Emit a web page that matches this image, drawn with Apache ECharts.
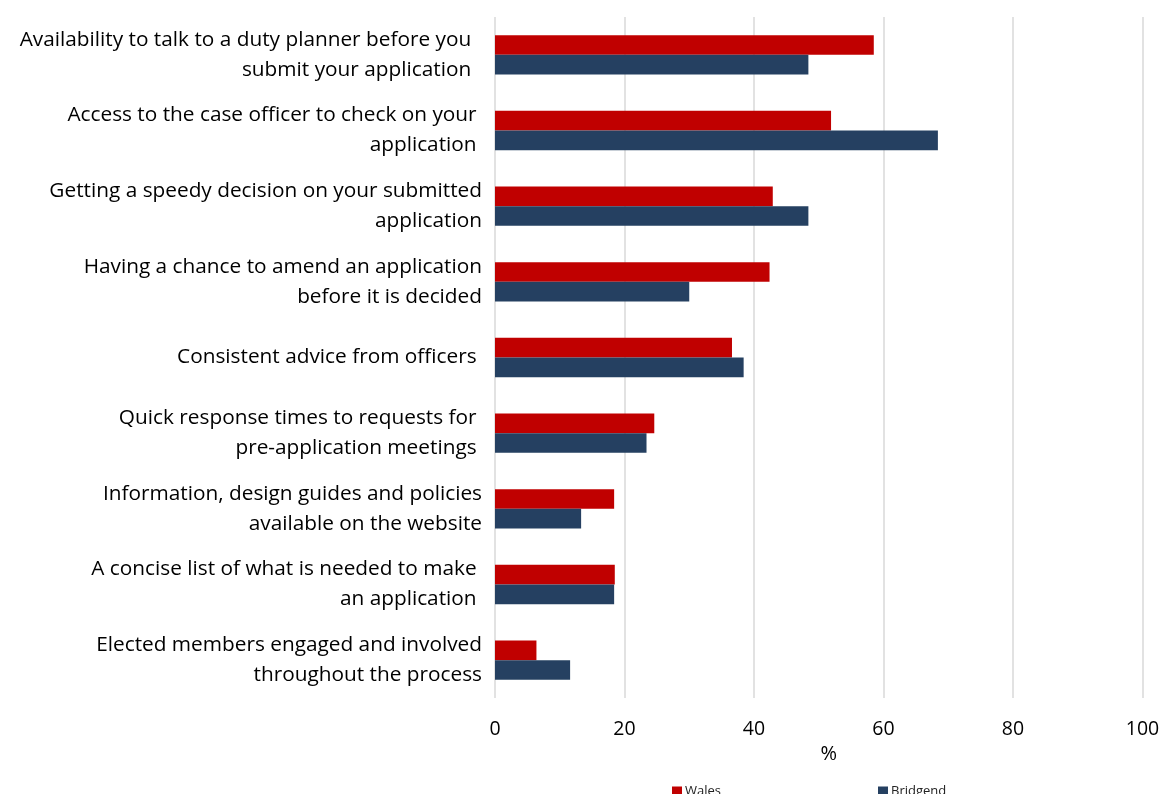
<!DOCTYPE html>
<html><head><meta charset="utf-8">
<script src="https://cdn.jsdelivr.net/npm/echarts@6/dist/echarts.min.js"></script>
<style>html,body{margin:0;padding:0;background:#fff}#c{width:1163px;height:794px}</style>
</head><body><div id="c"></div>
<script>
const categories = [
  "Availability to talk to a duty planner before you  \nsubmit your application  ",
  "Access to the case officer to check on your \napplication ",
  "Getting a speedy decision on your submitted\napplication",
  "Having a chance to amend an application\nbefore it is decided",
  "Consistent advice from officers ",
  "Quick response times to requests for \npre-application meetings ",
  "Information, design guides and policies\navailable on the website",
  "A concise list of what is needed to make \nan application ",
  "Elected members engaged and involved\nthroughout the process"
];
const wales    = [58.5, 51.9, 42.9, 42.4, 36.6, 24.6, 18.4, 18.5, 6.4];
const bridgend = [48.4, 68.4, 48.4, 30.0, 38.4, 23.4, 13.3, 18.4, 11.6];
const xTicks = [0, 20, 40, 60, 80, 100];

const chart = echarts.init(document.getElementById('c'));
chart.setOption({
  animation: false,
  textStyle: { fontFamily: 'Open Sans' },
  grid: { left: 495, right: 20.5, top: 17, bottom: 96, containLabel: false },
  legend: {
    data: ['Wales', 'Bridgend'],
    left: 667, top: 780,
    itemWidth: 10, itemHeight: 10, itemGap: 157,
    icon: 'rect',
    textStyle: { fontSize: 13, color: '#222', padding: [0,0,0,-2] }
  },
  xAxis: {
    type: 'value', min: xTicks[0], max: xTicks[xTicks.length-1], interval: 20,
    name: '%', nameLocation: 'middle', nameGap: 44,
    nameTextStyle: { fontSize: 20, color: '#000', padding: [0,0,0,20] },
    axisLine: { show: false }, axisTick: { show: false },
    axisLabel: { fontSize: 19.5, color: '#000', margin: 21 },
    splitLine: { show: true, lineStyle: { color: '#d9d9d9', width: 1.5 } }
  },
  yAxis: {
    type: 'category', data: categories, inverse: true,
    axisLine: { show: false }, axisTick: { show: false },
    axisLabel: { fontSize: 20.8, color: '#000', margin: 13, lineHeight: 30, align: 'right' }
  },
  series: [
    { name: 'Wales', type: 'bar', data: wales, barGap: '0%', barCategoryGap: '48%',
      itemStyle: { color: '#c00000' } },
    { name: 'Bridgend', type: 'bar', data: bridgend,
      itemStyle: { color: '#254061' } }
  ]
});
</script></body></html>
